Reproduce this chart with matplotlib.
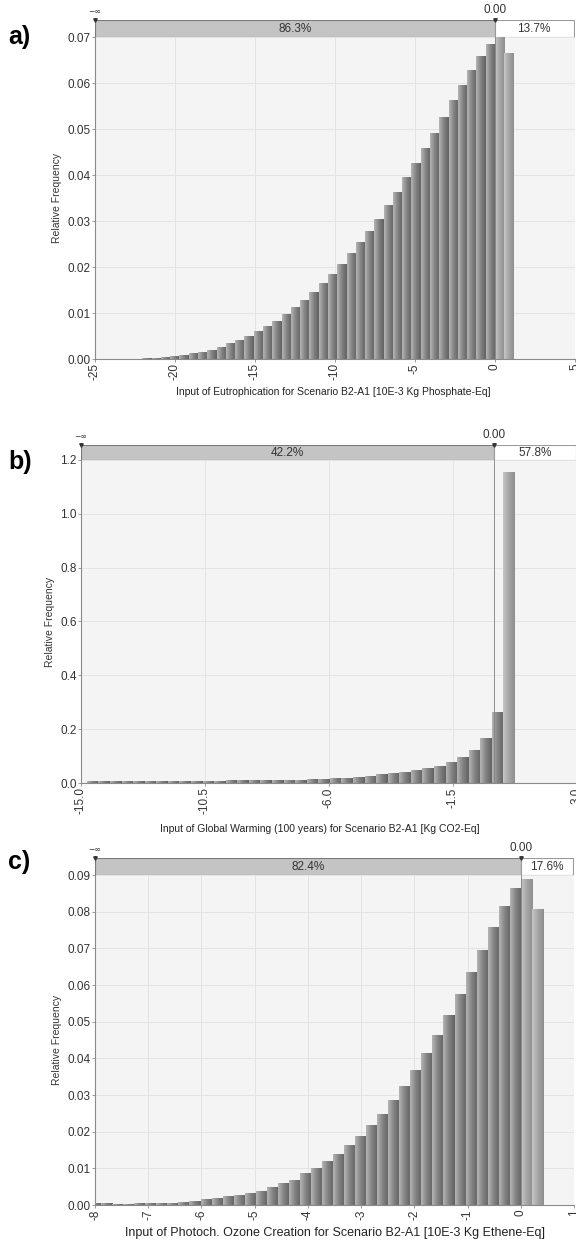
import numpy as np
import matplotlib
matplotlib.use("Agg")
import matplotlib.pyplot as plt
from matplotlib.colors import LinearSegmentedColormap
from matplotlib.patches import Rectangle

plt.rcParams["font.family"] = ["Liberation Sans", "DejaVu Sans"]

W, H = 576, 1243

# Panel a: Eutrophication (bins of 0.58, last two bins right of 0)
a_width = 0.58
a_nleft = 38
a_freq = [0.0001, 0.0002, 0.0004, 0.0006, 0.0008, 0.0011, 0.0014, 0.0019, 0.0026, 0.0033,
          0.0040, 0.0049, 0.0059, 0.0070, 0.0081, 0.0097, 0.0112, 0.0128, 0.0145, 0.0164,
          0.0183, 0.0205, 0.0229, 0.0254, 0.0278, 0.0304, 0.0334, 0.0363, 0.0394, 0.0426,
          0.0458, 0.0491, 0.0526, 0.0561, 0.0594, 0.0628, 0.0658, 0.0683, 0.0700, 0.0665]
a_pct = ("86.3%", "13.7%")
a_xticks = [-25, -20, -15, -10, -5, 0, 5]
a_yticks = [0.00, 0.01, 0.02, 0.03, 0.04, 0.05, 0.06, 0.07]

# Panel b: Global warming (bins of 0.42, right edge at 0.75)
b_width = 0.42
b_right = 0.75
b_freq = [0.0040, 0.0042, 0.0045, 0.0047, 0.0050, 0.0053, 0.0056, 0.0060, 0.0063, 0.0067,
          0.0070, 0.0074, 0.0078, 0.0082, 0.0087, 0.0092, 0.0097, 0.0103, 0.0110, 0.0120,
          0.0136, 0.0160, 0.0185, 0.0220, 0.0250, 0.0300, 0.0350, 0.0400, 0.0460, 0.0530,
          0.0620, 0.0765, 0.0960, 0.1210, 0.1670, 0.2630, 1.1540]
b_pct = ("42.2%", "57.8%")
b_xticks = [-15.0, -10.5, -6.0, -1.5, 3.0]
b_yticks = [0.0, 0.2, 0.4, 0.6, 0.8, 1.0, 1.2]

# Panel c: Photochemical ozone creation (bins of 0.2075, two bins right of 0)
c_width = 0.2075
c_nleft = 39
c_freq = [0.0003, 0.0003, 0.0002, 0.0002, 0.0003, 0.0003, 0.0004, 0.0005, 0.0007, 0.0010,
          0.0014, 0.0018, 0.0023, 0.0025, 0.0032, 0.0038, 0.0047, 0.0059, 0.0068, 0.0085,
          0.0100, 0.0118, 0.0138, 0.0161, 0.0186, 0.0218, 0.0248, 0.0285, 0.0323, 0.0366,
          0.0414, 0.0463, 0.0517, 0.0574, 0.0634, 0.0694, 0.0756, 0.0814, 0.0864, 0.0888,
          0.0806]
c_pct = ("82.4%", "17.6%")
c_xticks = [-8, -7, -6, -5, -4, -3, -2, -1, 0, 1]
c_yticks = [0.00, 0.01, 0.02, 0.03, 0.04, 0.05, 0.06, 0.07, 0.08, 0.09]

cm_left = LinearSegmentedColormap.from_list("l", ["#b4b4b4", "#828282", "#626262"])
cm_right = LinearSegmentedColormap.from_list("r", ["#c6c6c6", "#a6a6a6", "#8e8e8e"])
grad = np.linspace(0, 1, 32).reshape(1, -1)


def px_rect(x0, y0, x1, y1):
    return [x0 / W, 1 - y1 / H, (x1 - x0) / W, (y1 - y0) / H]


def panel(fig, main, strip, lefts, width, freq, xlim, ylim, xticks, xlabels, yticks, yfmt, pct):
    ax = fig.add_axes(px_rect(*main))
    ax.set_facecolor("#f4f4f4")
    for x0, h in zip(lefts, freq):
        cm = cm_right if x0 >= -1e-9 else cm_left
        ax.imshow(grad, extent=(x0, x0 + width, 0, h), aspect="auto", cmap=cm,
                  interpolation="bilinear", zorder=2)
    ax.axvline(0, color="#808080", lw=0.6, zorder=3)
    ax.set_xlim(xlim)
    ax.set_ylim(ylim)
    ax.set_xticks(xticks)
    ax.set_xticklabels(xlabels, rotation=90, fontsize=8.5, color="#333333")
    ax.set_yticks(yticks)
    ax.set_yticklabels([yfmt.format(v) for v in yticks], fontsize=8.5, color="#333333")
    ax.grid(True, color="#e3e3e3", lw=0.7, zorder=0)
    ax.set_axisbelow(True)
    for s in ["top", "right"]:
        ax.spines[s].set_visible(False)
    for s in ["left", "bottom"]:
        ax.spines[s].set_color("#8a8a8a")
    ax.tick_params(length=2, width=0.6, color="#8a8a8a", pad=1)

    sax = fig.add_axes(px_rect(*strip))
    sax.set_xlim(xlim)
    sax.set_ylim(0, 1)
    sax.axis("off")
    sax.add_patch(Rectangle((xlim[0], 0), -xlim[0], 1, fc="#c4c4c4", ec="#7a7a7a", lw=0.8))
    sax.add_patch(Rectangle((0, 0), xlim[1] * 0.985, 1, fc="white", ec="#9a9a9a", lw=0.8))
    sax.text(xlim[0] / 2, 0.45, pct[0], ha="center", va="center", fontsize=8.5, color="#333333")
    sax.text(xlim[1] * 0.49, 0.45, pct[1], ha="center", va="center", fontsize=8.5, color="#333333")
    sax.plot([xlim[0], 0], [1, 1], ls="none", marker="v", ms=2.5, color="#333333", clip_on=False)
    sax.text(0, 1.25, "0.00", ha="center", va="bottom", fontsize=8.5, color="#333333")
    sax.text(xlim[0], 1.25, "−∞", ha="center", va="bottom", fontsize=5.5, color="#333333",
             family=["DejaVu Sans"])
    return ax


fig = plt.figure(figsize=(W / 100, H / 100), dpi=100)

a_lefts = [(i - a_nleft) * a_width for i in range(len(a_freq))]
panel(fig, (95, 37, 575, 359), (95, 20, 575, 37), a_lefts, a_width, a_freq,
      (-25, 5), (0, 0.07), a_xticks, [str(v) for v in a_xticks], a_yticks, "{:.2f}", a_pct)

b_lefts = [b_right - (len(b_freq) - i) * b_width for i in range(len(b_freq))]
panel(fig, (81, 460, 577, 783), (81, 445, 577, 460), b_lefts, b_width, b_freq,
      (-15, 3), (0, 1.2), b_xticks, ["{:.1f}".format(v) for v in b_xticks], b_yticks, "{:.1f}", b_pct)

c_lefts = [(i - c_nleft) * c_width for i in range(len(c_freq))]
panel(fig, (95, 875, 574, 1205), (95, 858, 574, 875), c_lefts, c_width, c_freq,
      (-8, 1), (0, 0.09), c_xticks, [str(v) for v in c_xticks], c_yticks, "{:.2f}", c_pct)

# panel letters
for lab, y in [("a)", 37), ("b)", 462), ("c)", 862)]:
    fig.text(8 / W, 1 - y / H, lab, fontsize=18, fontweight="bold", va="center", ha="left")

# axis titles
for x, y in [(57, 198), (50, 622), (57, 1040)]:
    fig.text(x / W, 1 - y / H, "Relative Frequency", rotation=90, fontsize=7.5,
             ha="center", va="center", color="#333333")
fig.text(333 / W, 1 - 392 / H, "Input of Eutrophication for Scenario B2-A1 [10E-3 Kg Phosphate-Eq]",
         fontsize=7.5, ha="center", va="center", color="#222222")
fig.text(320 / W, 1 - 829 / H, "Input of Global Warming (100 years) for Scenario B2-A1 [Kg CO2-Eq]",
         fontsize=7.5, ha="center", va="center", color="#222222")
fig.text(335 / W, 1 - 1233 / H, "Input of Photoch. Ozone Creation for Scenario B2-A1 [10E-3 Kg Ethene-Eq]",
         fontsize=9, ha="center", va="center", color="#222222")

fig.savefig("out.png", dpi=100)
